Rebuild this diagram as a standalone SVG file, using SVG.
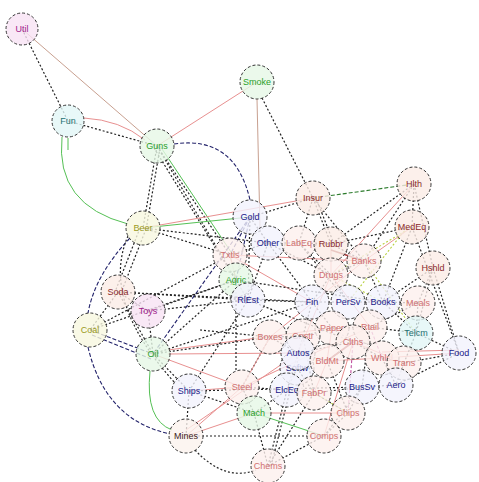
<svg xmlns="http://www.w3.org/2000/svg" width="479" height="482" viewBox="0 0 479 482">
<style>
  .bg{fill:#ffffff}
  .nd circle{stroke:#333;stroke-width:1;stroke-dasharray:3 2;fill-opacity:0.8}
  .nd text{font-family:"Liberation Sans",Arial,sans-serif;font-size:9px;text-anchor:middle;dominant-baseline:central}
  .pu circle{fill:#f8e2f4}.pu text{fill:#a0208a}
  .te circle{fill:#e2f6f6}.te text{fill:#1f7070}
  .gr circle{fill:#e6f8e6}.gr text{fill:#2aa02a}
  .ol circle{fill:#f8f8e0}.ol text{fill:#9a9a20}
  .bl circle{fill:#f3f3fc}.bl text{fill:#20208a}
  .br circle{fill:#fbece6}.br text{fill:#8a2a2a}
  .lr circle{fill:#fdf0ee}.lr text{fill:#d07070}
  .dk circle{fill:#fbf2ee}.dk text{fill:#402020}
  #edges line,#edges path{fill:none}
  .d{stroke:#222;stroke-width:1.2;stroke-dasharray:2 2}
  .b{stroke:#22226a;stroke-width:1.1;stroke-dasharray:4 2}
  .g{stroke:#55c055;stroke-width:1}
  .gd{stroke:#2a7a2a;stroke-width:1.1;stroke-dasharray:4 2}
  .r{stroke:#e89090;stroke-width:1}
  .o{stroke:#c8a090;stroke-width:1}
  .y{stroke:#b8d040;stroke-width:1.1;stroke-dasharray:2 2}
  .m{stroke:#c050a0;stroke-width:1.1;stroke-dasharray:3 2}
  .dr{stroke:#a83838;stroke-width:1.6}
</style>
<rect class="bg" width="479" height="482"/>
<g id="edges">
  <line class="d" x1="22" y1="29" x2="68" y2="121"/>
  <line class="o" x1="22" y1="29" x2="157" y2="146"/>
  <line class="d" x1="68" y1="121" x2="157" y2="146"/>
  <path class="r" d="M84,118 Q120,120 145,140"/>
  <path class="g" d="M62,137 Q55,205 128,224"/>
  <line class="g" x1="68" y1="138" x2="68" y2="150"/>
  <line class="r" x1="157" y1="146" x2="257" y2="82"/>
  <line class="d" x1="157" y1="146" x2="143" y2="228"/>
  <line class="d" x1="160" y1="148" x2="146" y2="230"/>
  <line class="d" x1="157" y1="146" x2="230" y2="255"/>
  <line class="g" x1="160" y1="146" x2="233" y2="255"/>
  <line class="d" x1="157" y1="146" x2="236" y2="280"/>
  <line class="d" x1="154" y1="148" x2="248" y2="300"/>
  <path class="b" d="M174,144 Q235,135 250,200"/>
  <line class="o" x1="257" y1="99" x2="260" y2="228"/>
  <line class="d" x1="262" y1="98" x2="313" y2="198"/>
  <line class="g" x1="143" y1="228" x2="250" y2="217"/>
  <line class="d" x1="143" y1="228" x2="268" y2="243"/>
  <line class="d" x1="143" y1="228" x2="230" y2="255"/>
  <line class="r" x1="143" y1="228" x2="313" y2="198"/>
  <line class="d" x1="140" y1="228" x2="115" y2="292"/>
  <line class="d" x1="146" y1="229" x2="121" y2="293"/>
  <path class="b" d="M130,238 Q95,275 88,313"/>
  <path class="d" d="M128,236 Q100,300 175,383"/>
  <line class="d" x1="118" y1="292" x2="90" y2="330"/>
  <line class="d" x1="118" y1="292" x2="148" y2="311"/>
  <line class="d" x1="118" y1="292" x2="153" y2="354"/>
  <line class="d" x1="118" y1="292" x2="248" y2="300"/>
  <line class="d" x1="118" y1="292" x2="312" y2="302"/>
  <line class="b" x1="90" y1="330" x2="153" y2="354"/>
  <line class="b" x1="92" y1="335" x2="151" y2="359"/>
  <path class="b" d="M88,347 Q105,420 170,434"/>
  <line class="d" x1="90" y1="330" x2="230" y2="255"/>
  <line class="d" x1="90" y1="330" x2="236" y2="280"/>
  <line class="d" x1="148" y1="311" x2="248" y2="300"/>
  <line class="d" x1="148" y1="311" x2="153" y2="354"/>
  <line class="d" x1="148" y1="311" x2="236" y2="280"/>
  <line class="d" x1="153" y1="354" x2="189" y2="391"/>
  <path class="g" d="M150,371 Q145,420 172,430"/>
  <line class="d" x1="153" y1="354" x2="236" y2="280"/>
  <line class="r" x1="153" y1="354" x2="242" y2="387"/>
  <line class="d" x1="153" y1="354" x2="270" y2="337"/>
  <line class="r" x1="168" y1="354" x2="298" y2="353"/>
  <line class="r" x1="168" y1="350" x2="332" y2="328"/>
  <line class="d" x1="153" y1="354" x2="312" y2="302"/>
  <line class="d" x1="189" y1="391" x2="186" y2="436"/>
  <line class="r" x1="189" y1="391" x2="242" y2="387"/>
  <line class="d" x1="189" y1="391" x2="254" y2="413"/>
  <line class="d" x1="189" y1="391" x2="362" y2="387"/>
  <line class="d" x1="189" y1="391" x2="248" y2="300"/>
  <path class="d" d="M195,450 Q225,482 256,470"/>
  <line class="r" x1="186" y1="436" x2="242" y2="387"/>
  <line class="r" x1="186" y1="436" x2="254" y2="413"/>
  <line class="r" x1="186" y1="430" x2="298" y2="353"/>
  <line class="d" x1="186" y1="436" x2="324" y2="436"/>
  <line class="d" x1="254" y1="413" x2="268" y2="466"/>
  <line class="r" x1="254" y1="413" x2="348" y2="413"/>
  <line class="d" x1="254" y1="413" x2="287" y2="390"/>
  <line class="d" x1="268" y1="466" x2="324" y2="436"/>
  <line class="d" x1="268" y1="466" x2="314" y2="393"/>
  <line class="d" x1="268" y1="466" x2="287" y2="390"/>
  <line class="d" x1="271" y1="466" x2="290" y2="391"/>
  <line class="d" x1="324" y1="436" x2="348" y2="413"/>
  <line class="d" x1="324" y1="436" x2="362" y2="387"/>
  <line class="d" x1="348" y1="413" x2="362" y2="387"/>
  <line class="d" x1="348" y1="413" x2="314" y2="393"/>
  <line class="d" x1="250" y1="217" x2="268" y2="243"/>
  <line class="b" x1="250" y1="217" x2="230" y2="255"/>
  <line class="d" x1="250" y1="217" x2="313" y2="198"/>
  <line class="b" x1="250" y1="217" x2="236" y2="280"/>
  <line class="b" x1="250" y1="217" x2="153" y2="354"/>
  <line class="gd" x1="313" y1="198" x2="414" y2="184"/>
  <line class="d" x1="313" y1="198" x2="299" y2="243"/>
  <line class="d" x1="313" y1="198" x2="331" y2="244"/>
  <line class="d" x1="316" y1="198" x2="334" y2="244"/>
  <line class="d" x1="313" y1="198" x2="364" y2="261"/>
  <line class="d" x1="414" y1="184" x2="412" y2="227"/>
  <line class="d" x1="414" y1="184" x2="364" y2="261"/>
  <line class="r" x1="414" y1="184" x2="331" y2="275"/>
  <line class="d" x1="414" y1="184" x2="433" y2="268"/>
  <line class="d" x1="414" y1="184" x2="331" y2="244"/>
  <line class="d" x1="412" y1="227" x2="459" y2="353"/>
  <line class="d" x1="433" y1="268" x2="459" y2="353"/>
  <line class="d" x1="412" y1="227" x2="331" y2="244"/>
  <line class="y" x1="412" y1="227" x2="331" y2="275"/>
  <line class="y" x1="409" y1="225" x2="348" y2="302"/>
  <line class="d" x1="412" y1="227" x2="383" y2="302"/>
  <line class="d" x1="433" y1="268" x2="418" y2="303"/>
  <line class="d" x1="433" y1="268" x2="383" y2="302"/>
  <line class="d" x1="433" y1="268" x2="416" y2="333"/>
  <line class="d" x1="459" y1="353" x2="416" y2="333"/>
  <line class="r" x1="459" y1="353" x2="382" y2="358"/>
  <line class="r" x1="459" y1="350" x2="382" y2="352"/>
  <line class="d" x1="459" y1="353" x2="404" y2="363"/>
  <line class="d" x1="459" y1="353" x2="396" y2="385"/>
  <line class="d" x1="268" y1="243" x2="299" y2="243"/>
  <line class="d" x1="299" y1="243" x2="331" y2="244"/>
  <line class="d" x1="331" y1="244" x2="364" y2="261"/>
  <line class="d" x1="331" y1="275" x2="364" y2="261"/>
  <line class="d" x1="331" y1="275" x2="312" y2="302"/>
  <line class="d" x1="331" y1="275" x2="348" y2="302"/>
  <line class="d" x1="312" y1="302" x2="348" y2="302"/>
  <line class="d" x1="348" y1="302" x2="383" y2="302"/>
  <line class="d" x1="383" y1="302" x2="418" y2="303"/>
  <line class="d" x1="332" y1="328" x2="370" y2="327"/>
  <line class="d" x1="370" y1="327" x2="416" y2="333"/>
  <line class="d" x1="353" y1="342" x2="382" y2="358"/>
  <line class="d" x1="382" y1="358" x2="404" y2="363"/>
  <line class="d" x1="298" y1="353" x2="327" y2="361"/>
  <line class="d" x1="270" y1="337" x2="303" y2="336"/>
  <line class="d" x1="248" y1="300" x2="312" y2="302"/>
  <line class="d" x1="248" y1="300" x2="236" y2="280"/>
  <line class="g" x1="236" y1="280" x2="230" y2="255"/>
  <line class="d" x1="230" y1="255" x2="268" y2="243"/>
  <line class="d" x1="312" y1="302" x2="332" y2="328"/>
  <line class="d" x1="332" y1="328" x2="353" y2="342"/>
  <line class="d" x1="353" y1="342" x2="298" y2="353"/>
  <line class="d" x1="287" y1="390" x2="314" y2="393"/>
  <line class="d" x1="314" y1="393" x2="362" y2="387"/>
  <line class="d" x1="362" y1="387" x2="396" y2="385"/>
  <line class="d" x1="396" y1="385" x2="382" y2="358"/>
  <line class="d" x1="404" y1="363" x2="396" y2="385"/>
  <line class="d" x1="242" y1="387" x2="287" y2="390"/>
  <line class="d" x1="270" y1="337" x2="242" y2="387"/>
  <line class="d" x1="270" y1="337" x2="298" y2="353"/>
  <line class="d" x1="298" y1="353" x2="287" y2="390"/>
  <line class="d" x1="327" y1="361" x2="353" y2="342"/>
  <line class="d" x1="303" y1="336" x2="332" y2="328"/>
  <line class="d" x1="418" y1="303" x2="416" y2="333"/>
  <line class="d" x1="383" y1="302" x2="416" y2="333"/>
  <line class="r" x1="230" y1="255" x2="312" y2="302"/>
  <line class="d" x1="236" y1="280" x2="383" y2="302"/>
  <line class="d" x1="248" y1="300" x2="353" y2="342"/>
  <line class="r" x1="242" y1="387" x2="370" y2="327"/>
  <line class="r" x1="230" y1="255" x2="364" y2="261"/>
  <line class="d" x1="268" y1="243" x2="331" y2="275"/>
  <line class="d" x1="299" y1="243" x2="348" y2="302"/>
  <line class="r" x1="331" y1="275" x2="298" y2="353"/>
  <line class="d" x1="303" y1="336" x2="314" y2="393"/>
  <line class="d" x1="327" y1="361" x2="348" y2="413"/>
  <line class="r" x1="353" y1="342" x2="324" y2="436"/>
  <line class="d" x1="370" y1="327" x2="362" y2="387"/>
  <line class="y" x1="364" y1="261" x2="416" y2="333"/>
  <line class="r" x1="270" y1="337" x2="364" y2="261"/>
  <line class="d" x1="236" y1="280" x2="236" y2="370"/>
  <line class="d" x1="200" y1="330" x2="270" y2="337"/>
  <line class="r" x1="331" y1="244" x2="331" y2="275"/>
  <line class="dr" x1="331" y1="250" x2="364" y2="261"/>
  <line class="y" x1="331" y1="275" x2="383" y2="302"/>
  <line class="r" x1="331" y1="275" x2="370" y2="327"/>
  <line class="d" x1="364" y1="261" x2="383" y2="302"/>
  <line class="r" x1="364" y1="261" x2="412" y2="227"/>
  <line class="d" x1="299" y1="243" x2="331" y2="275"/>
  <line class="d" x1="268" y1="243" x2="312" y2="302"/>
  <line class="d" x1="268" y1="243" x2="248" y2="300"/>
  <line class="d" x1="250" y1="217" x2="248" y2="300"/>
  <line class="r" x1="230" y1="255" x2="236" y2="280"/>
  <line class="dr" x1="353" y1="342" x2="327" y2="361"/>
  <line class="r" x1="353" y1="342" x2="404" y2="363"/>
  <line class="r" x1="327" y1="361" x2="382" y2="358"/>
  <line class="r" x1="327" y1="361" x2="314" y2="393"/>
  <line class="y" x1="314" y1="393" x2="348" y2="413"/>
  <line class="d" x1="298" y1="353" x2="297" y2="368"/>
  <line class="d" x1="297" y1="368" x2="287" y2="390"/>
  <line class="d" x1="297" y1="368" x2="314" y2="393"/>
  <line class="m" x1="382" y1="358" x2="370" y2="327"/>
  <line class="d" x1="404" y1="363" x2="416" y2="333"/>
  <line class="d" x1="418" y1="303" x2="370" y2="327"/>
  <line class="r" x1="332" y1="328" x2="327" y2="361"/>
  <line class="d" x1="303" y1="336" x2="298" y2="353"/>
  <line class="d" x1="303" y1="336" x2="312" y2="302"/>
  <line class="d" x1="242" y1="387" x2="254" y2="413"/>
  <line class="r" x1="242" y1="387" x2="270" y2="337"/>
  <line class="g" x1="254" y1="413" x2="324" y2="436"/>
  <line class="m" x1="348" y1="413" x2="353" y2="342"/>
</g>
<g id="n-util" class="nd pu"><circle cx="22" cy="29" r="16"/><text x="22" y="29">Util</text></g>
<g id="n-fun" class="nd te"><circle cx="68" cy="121" r="16"/><text x="68" y="121">Fun</text></g>
<g id="n-guns" class="nd gr"><circle cx="157" cy="146" r="17"/><text x="157" y="146">Guns</text></g>
<g id="n-smoke" class="nd gr"><circle cx="257" cy="82" r="17"/><text x="257" y="82">Smoke</text></g>
<g id="n-beer" class="nd ol"><circle cx="143" cy="228" r="17"/><text x="143" y="228">Beer</text></g>
<g id="n-gold" class="nd bl"><circle cx="250" cy="217" r="17"/><text x="250" y="217">Gold</text></g>
<g id="n-insur" class="nd br"><circle cx="313" cy="198" r="17"/><text x="313" y="198">Insur</text></g>
<g id="n-hlth" class="nd br"><circle cx="414" cy="184" r="17"/><text x="414" y="184">Hlth</text></g>
<g id="n-medeq" class="nd br"><circle cx="412" cy="227" r="17"/><text x="412" y="227">MedEq</text></g>
<g id="n-hshld" class="nd br"><circle cx="433" cy="268" r="17"/><text x="433" y="268">Hshld</text></g>
<g id="n-food" class="nd bl"><circle cx="459" cy="353" r="17"/><text x="459" y="353">Food</text></g>
<g id="n-txtls" class="nd lr"><circle cx="230" cy="255" r="17"/><text x="230" y="255">Txtls</text></g>
<g id="n-other" class="nd bl"><circle cx="268" cy="243" r="17"/><text x="268" y="243">Other</text></g>
<g id="n-labeq" class="nd lr"><circle cx="299" cy="243" r="17"/><text x="299" y="243">LabEq</text></g>
<g id="n-rubbr" class="nd br"><circle cx="331" cy="244" r="17"/><text x="331" y="244">Rubbr</text></g>
<g id="n-banks" class="nd lr"><circle cx="364" cy="261" r="17"/><text x="364" y="261">Banks</text></g>
<g id="n-drugs" class="nd lr"><circle cx="331" cy="275" r="17"/><text x="331" y="275">Drugs</text></g>
<g id="n-agric" class="nd gr"><circle cx="236" cy="280" r="17"/><text x="236" y="280">Agric</text></g>
<g id="n-soda" class="nd br"><circle cx="118" cy="292" r="17"/><text x="118" y="292">Soda</text></g>
<g id="n-coal" class="nd ol"><circle cx="90" cy="330" r="17"/><text x="90" y="330">Coal</text></g>
<g id="n-toys" class="nd pu"><circle cx="148" cy="311" r="17"/><text x="148" y="311">Toys</text></g>
<g id="n-oil" class="nd gr"><circle cx="153" cy="354" r="17"/><text x="153" y="354">Oil</text></g>
<g id="n-rlest" class="nd bl"><circle cx="248" cy="300" r="17"/><text x="248" y="300">RlEst</text></g>
<g id="n-fin" class="nd bl"><circle cx="312" cy="302" r="17"/><text x="312" y="302">Fin</text></g>
<g id="n-persv" class="nd bl"><circle cx="348" cy="302" r="17"/><text x="348" y="302">PerSv</text></g>
<g id="n-books" class="nd bl"><circle cx="383" cy="302" r="17"/><text x="383" y="302">Books</text></g>
<g id="n-meals" class="nd lr"><circle cx="418" cy="303" r="17"/><text x="418" y="303">Meals</text></g>
<g id="n-paper" class="nd lr"><circle cx="332" cy="328" r="17"/><text x="332" y="328">Paper</text></g>
<g id="n-rtail" class="nd lr"><circle cx="370" cy="327" r="17"/><text x="370" y="327">Rtail</text></g>
<g id="n-telcm" class="nd te"><circle cx="416" cy="333" r="17"/><text x="416" y="333">Telcm</text></g>
<g id="n-softw" class="nd bl"><circle cx="297" cy="368" r="17"/><text x="297" y="368">Softw</text></g>
<g id="n-boxes" class="nd lr"><circle cx="270" cy="337" r="17"/><text x="270" y="337">Boxes</text></g>
<g id="n-cnstr" class="nd lr"><circle cx="303" cy="336" r="17"/><text x="303" y="336">Cnstr</text></g>
<g id="n-clths" class="nd lr"><circle cx="353" cy="342" r="17"/><text x="353" y="342">Clths</text></g>
<g id="n-autos" class="nd bl"><circle cx="298" cy="353" r="17"/><text x="298" y="353">Autos</text></g>
<g id="n-bldmt" class="nd lr"><circle cx="327" cy="361" r="17"/><text x="327" y="361">BldMt</text></g>
<g id="n-whlsl" class="nd lr"><circle cx="382" cy="358" r="17"/><text x="382" y="358">Whlsl</text></g>
<g id="n-trans" class="nd lr"><circle cx="404" cy="363" r="17"/><text x="404" y="363">Trans</text></g>
<g id="n-ships" class="nd bl"><circle cx="189" cy="391" r="17"/><text x="189" y="391">Ships</text></g>
<g id="n-steel" class="nd lr"><circle cx="242" cy="387" r="17"/><text x="242" y="387">Steel</text></g>
<g id="n-elceq" class="nd bl"><circle cx="287" cy="390" r="17"/><text x="287" y="390">ElcEq</text></g>
<g id="n-fabpr" class="nd lr"><circle cx="314" cy="393" r="17"/><text x="314" y="393">FabPr</text></g>
<g id="n-bussv" class="nd bl"><circle cx="362" cy="387" r="17"/><text x="362" y="387">BusSv</text></g>
<g id="n-aero" class="nd bl"><circle cx="396" cy="385" r="17"/><text x="396" y="385">Aero</text></g>
<g id="n-mach" class="nd gr"><circle cx="254" cy="413" r="17"/><text x="254" y="413">Mach</text></g>
<g id="n-chips" class="nd lr"><circle cx="348" cy="413" r="17"/><text x="348" y="413">Chips</text></g>
<g id="n-comps" class="nd lr"><circle cx="324" cy="436" r="17"/><text x="324" y="436">Comps</text></g>
<g id="n-mines" class="nd dk"><circle cx="186" cy="436" r="17"/><text x="186" y="436">Mines</text></g>
<g id="n-chems" class="nd lr"><circle cx="268" cy="466" r="17"/><text x="268" y="466">Chems</text></g>
</svg>
